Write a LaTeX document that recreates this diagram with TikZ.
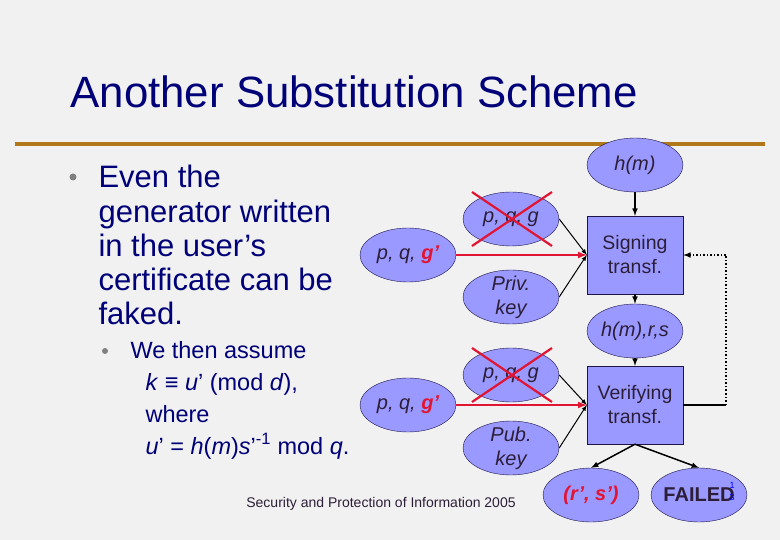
\documentclass[tikz,border=0pt]{standalone}
\usepackage{fontspec}
\setmainfont{Liberation Sans}
\usetikzlibrary{shapes.geometric}

\definecolor{slidebg}{RGB}{241,241,241}
\definecolor{navy}{RGB}{0,0,120}
\definecolor{gold}{RGB}{176,120,24}
\definecolor{peri}{RGB}{153,153,255}
\definecolor{ink}{RGB}{45,30,55}
\definecolor{inkline}{RGB}{30,20,70}
\definecolor{crimson}{RGB}{225,20,50}

\begin{document}
\begin{tikzpicture}[x=1pt, y=1pt, node distance=76pt,
  key/.style={ellipse, draw=inkline, fill=peri, minimum width=96pt, minimum height=54pt, inner sep=0pt, label={[keytext]center:#1}},
  keytext/.style={align=center, font=\fontsize{20}{24}\selectfont\itshape, text=ink},
  transf/.style={draw=inkline, fill=peri, minimum width=96pt, minimum height=78pt, align=center, font=\fontsize{19.5}{24}\selectfont, text=ink},
  dot/.style={circle, fill=gray, inner sep=0pt, minimum size=#1},
  flow/.style={-latex, line width=1.5pt},
  fake/.style={-latex, line width=2pt, crimson},
  cross/.style={line width=2.2pt, crimson}]
  \useasboundingbox (0,0) rectangle (780,-540);
  \fill[slidebg] (0,0) rectangle (780,-540);

  % Title and text
  \node[anchor=base west, font=\fontsize{43.8}{50}\selectfont, text=navy] (title) at (67,-108) {Another Substitution Scheme};
  \draw[gold, line width=4pt] (15,-144) -- (765,-144);
  \node[dot=7pt] (dotA) at (73,-177) {};
  \node[anchor=base west, align=left, font=\fontsize{31}{34.3}\selectfont, text=navy] (pointA) at (95,-325) {Even the\\generator written\\in the user’s\\certificate can be\\faked.};
  \node[dot=6pt] (dotB) at (105,-351) {};
  \node[anchor=base west, align=left, font=\fontsize{23.5}{32}\selectfont, text=navy] (pointB) at (127,-454) {We then assume\\\hspace*{15pt}\textit{k} ≡ \textit{u}’ (mod \textit{d}),\\\hspace*{15pt}where\\\hspace*{15pt}\textit{u}’ = \textit{h}(\textit{m})\textit{s}’\textsuperscript{-1} mod \textit{q}.};
  \node[font=\fontsize{14}{16}\selectfont, text=ink] (footer) at (381,-504) {Security and Protection of Information 2005};

  % Nodes
  \node[key={h(m)}] (hm) at (635,-165) {};
  \node[transf, below of=hm, node distance=90pt] (sign) {Signing\\transf.};
  \node[key={h(m),r,s}, below of=sign] (hrs) {};
  \node[transf, below of=hrs, node distance=74pt] (verif) {Verifying\\transf.};
  \node[key={\color{crimson}\bfseries(r’, s’)}, below of=verif, node distance=90pt, xshift=-44pt] (rs) {};
  \node[key={\upshape\bfseries FAILED}, below of=verif, node distance=90pt, xshift=64pt] (failed) {};
  \node[align=center, font=\fontsize{9}{12}\selectfont, text=blue] (pagenum) at (732,-491) {1\\3};

  \node[key={p, q, g}] (pqgS) at (511,-219) {};
  \node[key={Priv.\\key}, below of=pqgS, node distance=78pt] (privS) {};
  \node[key={p, q, \textcolor{crimson}{\bfseries g’}}] (gfakeS) at (408,-255) {};
  \node[key={p, q, g}] (pqgV) at (511,-375) {};
  \node[key={Pub.\\key}, below of=pqgV, node distance=73pt] (pubV) {};
  \node[key={p, q, \textcolor{crimson}{\bfseries g’}}] (gfakeV) at (408,-405) {};
  \coordinate (loopB) at (726,-405);
  \coordinate (loopT) at (726,-255);

  % Arrows
  \draw[flow] (hm) -- (sign);
  \draw[flow] (sign) -- (hrs);
  \draw[flow] (hrs) -- (verif);
  \draw[flow] (verif.south) -- (rs.north);
  \draw[flow] (verif.south) -- (failed.north);
  \draw[flow, line width=1pt] (pqgS.east) -- (sign.west);
  \draw[flow, line width=1pt] (privS.east) -- (sign.west);
  \draw[flow, line width=1pt] (pqgV.east) -- (verif.west);
  \draw[flow, line width=1pt] (pubV.east) -- (verif.west);
  \draw[fake] (gfakeS) -- (sign.west);
  \draw[fake] (gfakeV) -- (verif.west);
  \draw[line width=2pt] (verif.east) -- (loopB);
  \draw[flow, dotted] (loopB) -- (loopT) -- (sign.east);

  % Crossed out
  \foreach \k in {pqgS,pqgV}
    \draw[cross] ([shift={(-39,27)}]\k.center) -- ([shift={(41,-27)}]\k.center)
                 ([shift={(41,27)}]\k.center) -- ([shift={(-39,-27)}]\k.center);
\end{tikzpicture}
\end{document}
